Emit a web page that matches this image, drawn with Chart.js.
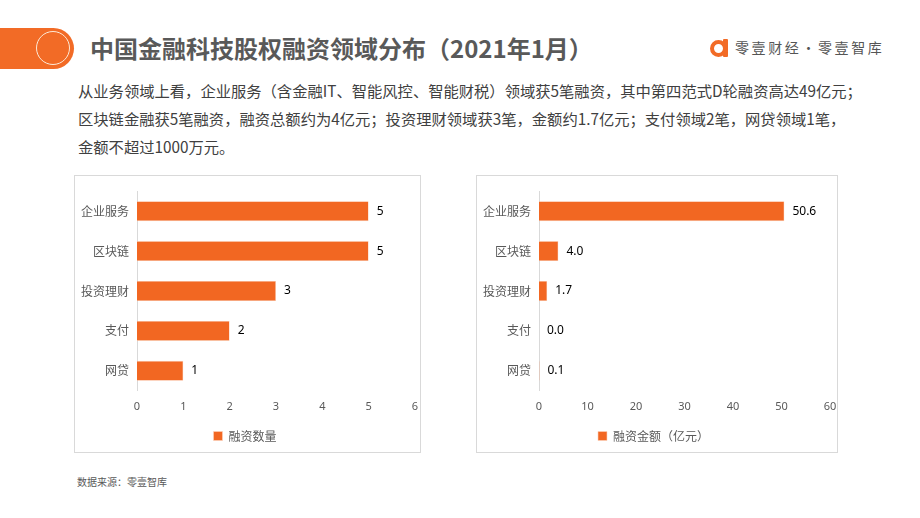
<!DOCTYPE html>
<html>
<head>
<meta charset="utf-8">
<script src="https://cdn.jsdelivr.net/npm/chart.js@4"></script>
<style>
  body { margin: 0; width: 920px; height: 518px; background: #fff; position: relative; overflow: hidden;
         font-family: "Noto Sans CJK SC", "Noto Sans", sans-serif; }
  .pill { position: absolute; left: 0; top: 28px; width: 74px; height: 41px; background: #f26b26;
          border-radius: 0 21px 21px 0; }
  .pill .ring { position: absolute; left: 36px; top: 3px; width: 32px; height: 32px; border: 1.6px solid #fde9d6;
                border-radius: 50%; }
  .title { position: absolute; left: 90px; top: 33px; font-size: 24px; font-weight: bold; color: #595959;
           line-height: 30px; white-space: nowrap; }
  .logo { position: absolute; left: 710px; top: 38px; height: 20px; }
  .logo .ic { position: absolute; left: 0; top: 2px; width: 9px; height: 9px; border: 4px solid #f26b26; border-radius: 50%; }
  .logo .bar { position: absolute; left: 13px; top: 1px; width: 5px; height: 18px; background: #f26b26; border-radius: 1px; }
  .logo .tx { position: absolute; left: 25px; top: -1px; font-size: 14px; letter-spacing: 2.6px; color: #555;
              white-space: nowrap; line-height: 20px; }
  .para { position: absolute; left: 78px; top: 76px; font-size: 15.3px; color: #404040; line-height: 28px;
          white-space: nowrap; }
  .box { position: absolute; top: 175px; height: 278px; border: 1px solid #d9d9d9; box-sizing: border-box; }
  .box canvas { display: block; }
  .src { position: absolute; left: 77px; top: 474px; font-size: 10px; color: #595959; }
</style>
</head>
<body>
<div class="pill"><div class="ring"></div></div>
<div class="title">中国金融科技股权融资领域分布（2021年1月）</div>
<div class="logo"><div class="ic"></div><div class="bar"></div><div class="tx">零壹财经·零壹智库</div></div>
<div class="para">从业务领域上看，企业服务（含金融IT、智能风控、智能财税）领域获5笔融资，其中第四范式D轮融资高达49亿元；<br>区块链金融获5笔融资，融资总额约为4亿元；投资理财领域获3笔，金额约1.7亿元；支付领域2笔，网贷领域1笔，<br>金额不超过1000万元。</div>
<div class="box" style="left:74px;width:347px;"><canvas id="c1" width="345" height="276"></canvas></div>
<div class="box" style="left:476px;width:362px;"><canvas id="c2" width="360" height="276"></canvas></div>
<div class="src">数据来源：零壹智库</div>
<script>
const categories = ["企业服务", "区块链", "投资理财", "支付", "网贷"];
const dealCounts = [5, 5, 3, 2, 1];
const dealAmounts = [50.6, 4.0, 1.7, 0.0, 0.1];
const countTicks = [0, 1, 2, 3, 4, 5, 6];
const amountTicks = [0, 10, 20, 30, 40, 50, 60];

const orange = "#f26722";

const valueLabels = {
  id: "valueLabels",
  afterDatasetsDraw(chart, args, opts) {
    const ctx = chart.ctx;
    const meta = chart.getDatasetMeta(0);
    ctx.save();
    ctx.font = "12px 'Noto Sans', sans-serif";
    ctx.fillStyle = "#000";
    ctx.textBaseline = "middle";
    meta.data.forEach((bar, i) => {
      const v = chart.data.datasets[0].data[i];
      ctx.fillText(opts.fmt(v), bar.x + 8, bar.y);
    });
    ctx.restore();
  }
};

function makeChart(id, label, values, ticks, fmt, padRight) {
  return new Chart(document.getElementById(id), {
    type: "bar",
    data: {
      labels: categories,
      datasets: [{
        label: label,
        data: values,
        backgroundColor: orange,
        borderColor: "#fbd3bd",
        borderWidth: 0.6,
        barPercentage: 0.5,
        categoryPercentage: 1
      }]
    },
    plugins: [valueLabels],
    options: {
      indexAxis: "y",
      responsive: false,
      animation: false,
      layout: { padding: { top: 9, right: padRight, left: 0, bottom: 0 } },
      plugins: {
        valueLabels: { fmt: fmt },
        tooltip: { enabled: false },
        legend: {
          position: "bottom",
          labels: {
            boxWidth: 9, boxHeight: 9, padding: 8,
            color: "#595959",
            font: { size: 12, family: "'Noto Sans CJK SC', sans-serif" }
          }
        }
      },
      scales: {
        x: {
          min: ticks[0], max: ticks[ticks.length - 1],
          afterBuildTicks: (s) => { s.ticks = ticks.map(v => ({ value: v })); },
          afterFit: (s) => { s.paddingRight = 0; },
          grid: { display: false, drawTicks: false },
          border: { display: false },
          ticks: { color: "#595959", padding: 9, font: { size: 11, family: "'Noto Sans', sans-serif" } }
        },
        y: {
          afterFit: (s) => { s.width = 62; },
          grid: { display: false, drawTicks: false },
          border: { color: "#d9d9d9", width: 1 },
          ticks: { color: "#595959", padding: 8, font: { size: 12, family: "'Noto Sans CJK SC', sans-serif" } }
        }
      }
    }
  });
}

makeChart("c1", "融资数量", dealCounts, countTicks, v => String(v), 5);
makeChart("c2", "融资金额（亿元）", dealAmounts, amountTicks, v => v.toFixed(1), 7);
</script>
</body>
</html>
